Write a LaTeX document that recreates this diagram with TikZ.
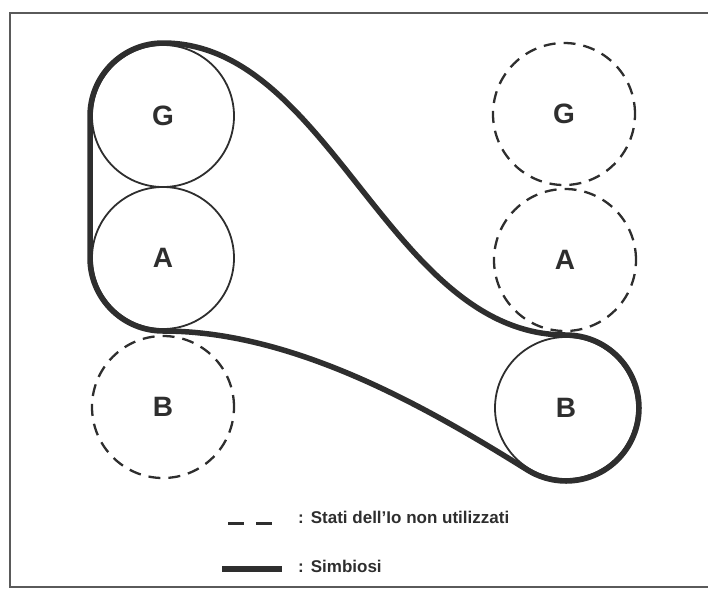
\documentclass[tikz,border=0pt]{standalone}
\usepackage{fontspec}
\setmainfont{Liberation Sans}
\usetikzlibrary{calc}
\definecolor{ink}{HTML}{2E2E2E}
\definecolor{framegray}{HTML}{5A5A5A}
\tikzset{
  x=1pt, y=1pt,
  state/.style={circle, draw=ink, line width=1.8pt, minimum size=142pt, inner sep=0pt,
                font=\fontsize{28}{28}\selectfont\bfseries, text=ink},
  unused/.style={state, dash pattern=on 12pt off 8pt, line width=2.3pt},
  bond/.style={draw=ink, line width=5.5pt, line join=round, line cap=round},
  legendtext/.style={font=\fontsize{17}{17}\selectfont\bfseries, text=ink, anchor=west, inner sep=0pt},
}
\begin{document}
\begin{tikzpicture}
  \useasboundingbox (0,0) rectangle (708,-590);
  % outer frame (open on the right)
  \draw[framegray, line width=2.2pt] (708,-13) -- (10,-13) -- (10,-587) -- (708,-587);

  % ego states of the first person
  \node[state]  (gL) at (163,-116) {G};
  \node[state]  (aL) at (163,-258) {A};
  \node[unused] (bL) at (163,-407) {B};

  % ego states of the second person
  \node[unused] (gR) at (564,-114) {G};
  \node[unused] (aR) at (565,-260) {A};
  \node[state]  (bR) at (566,-408) {B};

  % symbiotic envelope around the states in use
  \coordinate (aBot) at ($(aL.center)+(-90:73)$);
  \coordinate (bTop) at ($(bR.center)+(90:73)$);
  \path[bond]
    (aBot) arc[start angle=-90, end angle=-180, radius=73]
    -- ($(gL.center)+(180:73)$)
    arc[start angle=180, end angle=90, radius=73]
    .. controls +(167,0) and +(-176,0) .. (bTop)
    arc[start angle=90, end angle=-122, radius=73]
    .. controls +(148:120) and +(130,0) .. (aBot);

  % legend
  \coordinate (dashL) at (228,-523);
  \coordinate (dashR) at (272,-523);
  \draw[ink, line width=3pt, dash pattern=on 16pt off 12pt] (dashL) -- (dashR);
  \node[legendtext] (lg1) at (298,-517) {:\hspace{7pt}Stati dell'Io non utilizzati};
  \coordinate (solL) at (222,-569);
  \coordinate (solR) at (282,-569);
  \draw[ink, line width=5.5pt] (solL) -- (solR);
  \node[legendtext] (lg2) at (298,-566) {:\hspace{7pt}Simbiosi};
\end{tikzpicture}
\end{document}
